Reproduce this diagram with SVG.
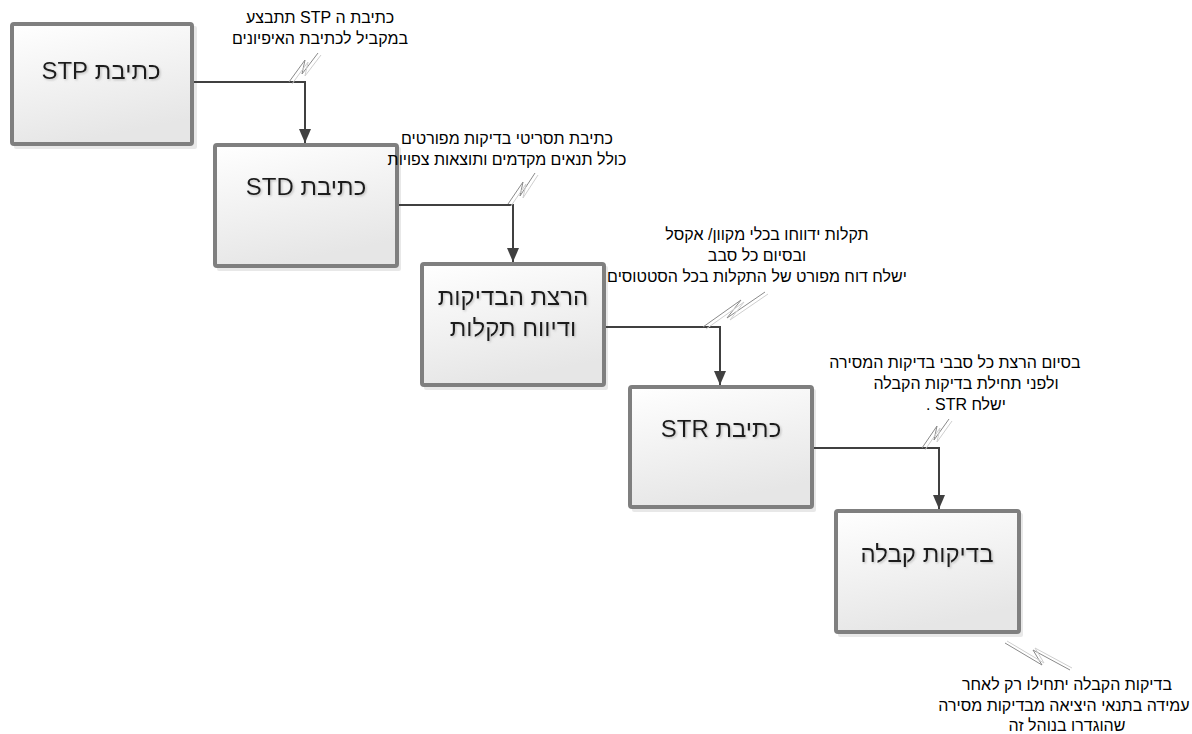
<svg xmlns="http://www.w3.org/2000/svg" width="1192" height="734" viewBox="0 0 1192 734">
<style>
.box{fill:url(#g);stroke:#7f7f7f;stroke-width:4}
.sh{fill:#d8d8d8;opacity:0.6}
.lbl{font-family:"Liberation Sans",Arial,sans-serif;font-size:24px;fill:#1a1a1a;text-anchor:middle;direction:rtl;filter:url(#ts)}
.note{font-family:"Liberation Sans",Arial,sans-serif;font-size:16px;fill:#000;text-anchor:middle;direction:rtl}
.conn{fill:none;stroke:#404040;stroke-width:2}
.sq1{fill:none;stroke:#8a8a8a;stroke-width:1}
.sq2{fill:none;stroke:#cfcfcf;stroke-width:1}
</style>
<defs>
<linearGradient id="g" x1="0" y1="0" x2="0.3" y2="1">
<stop offset="0" stop-color="#ffffff"/>
<stop offset="1" stop-color="#e6e6e6"/>
</linearGradient>
<filter id="ts" x="-10%" y="-30%" width="120%" height="160%">
<feDropShadow dx="1.2" dy="1.2" stdDeviation="0.8" flood-color="#999999" flood-opacity="0.6"/>
</filter>
<marker id="arr" markerUnits="userSpaceOnUse" markerWidth="14" markerHeight="14" viewBox="0 0 14 14" refX="14" refY="7" orient="auto">
<path d="M0,1 L14,7 L0,13 z" fill="#404040"/>
</marker>
</defs>

<g id="node1">
<rect class="sh" x="14" y="26" width="183" height="123" rx="2"/>
<rect class="box" x="12" y="24" width="180" height="120" rx="2"/>
<text class="lbl" x="101" y="79">כתיבת STP</text>
</g>
<g id="node2">
<rect class="sh" x="217" y="147" width="184" height="124" rx="2"/>
<rect class="box" x="215" y="145" width="182" height="121" rx="2"/>
<text class="lbl" x="306" y="195">כתיבת STD</text>
</g>
<g id="node3">
<rect class="sh" x="424" y="266" width="184" height="124" rx="2"/>
<rect class="box" x="422" y="264" width="182" height="121" rx="2"/>
<text class="lbl" x="513" y="305">הרצת הבדיקות</text>
<text class="lbl" x="513" y="336">ודיווח תקלות</text>
</g>
<g id="node4">
<rect class="sh" x="632" y="389" width="184" height="123" rx="2"/>
<rect class="box" x="630" y="387" width="182" height="120" rx="2"/>
<text class="lbl" x="721" y="437">כתיבת STR</text>
</g>
<g id="node5">
<rect class="sh" x="838" y="513" width="185" height="124" rx="2"/>
<rect class="box" x="836" y="511" width="183" height="121" rx="2"/>
<text class="lbl" x="927" y="562">בדיקות קבלה</text>
</g>

<g id="connectors">
<polyline class="conn" points="194,82 305,82 305,143" marker-end="url(#arr)"/>
<polyline class="conn" points="399,205 513,205 513,262" marker-end="url(#arr)"/>
<polyline class="conn" points="606,327 720,327 720,385" marker-end="url(#arr)"/>
<polyline class="conn" points="814,448 939,448 939,509" marker-end="url(#arr)"/>
</g>

<g id="callouts">
<polyline class="sq1" points="289,82 305,60 302,74 318,53"/>
<polyline class="sq2" points="292,84 308,62 305,76 321,55"/>
<polyline class="sq1" points="508,204 523,182 520,196 535,173"/>
<polyline class="sq2" points="511,206 526,184 523,198 538,175"/>
<polyline class="sq1" points="703,327 741,300 727,318 765,292"/>
<polyline class="sq2" points="706,329 744,302 730,320 768,294"/>
<polyline class="sq1" points="922,448 937,426 934,440 949,419"/>
<polyline class="sq2" points="925,450 940,428 937,442 952,421"/>
<polyline class="sq1" points="1005,643 1042,665 1033,650 1070,670"/>
<polyline class="sq2" points="1007,641 1044,663 1035,648 1072,668"/>
</g>

<g id="notes">
<text class="note" x="320" y="23">כתיבת ה STP תתבצע</text>
<text class="note" x="320" y="44">במקביל לכתיבת האיפיונים</text>
<text class="note" x="507" y="144">כתיבת תסריטי בדיקות מפורטים</text>
<text class="note" x="507" y="165">כולל תנאים מקדמים ותוצאות צפויות</text>
<text class="note" x="767" y="240">תקלות ידווחו בכלי מקוון/ אקסל</text>
<text class="note" x="757" y="261">ובסיום כל סבב</text>
<text class="note" x="757" y="282">ישלח דוח מפורט של התקלות בכל הסטטוסים</text>
<text class="note" x="955" y="368">בסיום הרצת כל סבבי בדיקות המסירה</text>
<text class="note" x="966" y="389">ולפני תחילת בדיקות הקבלה</text>
<text class="note" x="966" y="410">ישלח STR .</text>
<text class="note" x="1067" y="690">בדיקות הקבלה יתחילו רק לאחר</text>
<text class="note" x="1064" y="711">עמידה בתנאי היציאה מבדיקות מסירה</text>
<text class="note" x="1067" y="731">שהוגדרו בנוהל זה</text>
</g>
</svg>
